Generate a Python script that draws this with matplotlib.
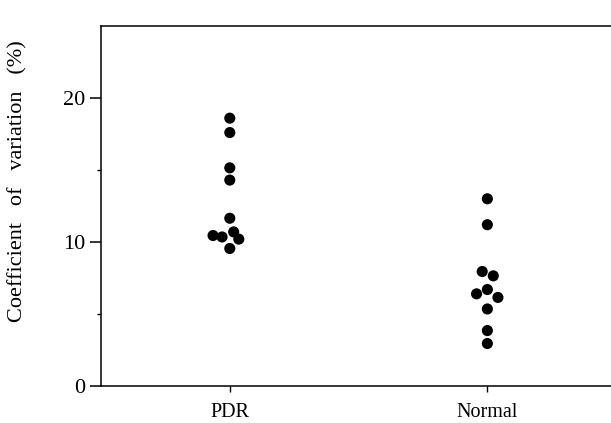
import numpy as np
import matplotlib
matplotlib.use("Agg")
import matplotlib.pyplot as plt

# Data
groups = ['PDR', 'Normal']
pdr_cv = [18.6, 17.6, 15.15, 14.3, 11.65, 10.45, 10.35, 10.7, 10.2, 9.55]
pdr_jitter = [0, 0, 0, 0, 0, -0.065, -0.03, 0.015, 0.035, 0]
normal_cv = [13.0, 11.2, 7.95, 7.65, 6.7, 6.4, 6.15, 5.35, 3.85, 2.95]
normal_jitter = [0, 0, -0.02, 0.023, 0, -0.042, 0.041, 0, 0, 0]
major_yticks = [0, 10, 20]
minor_yticks = [5, 15]

plt.rcParams['font.family'] = ['Liberation Serif', 'DejaVu Serif']

fig = plt.figure(figsize=(6.11, 4.23), dpi=100)
ax = fig.add_axes([101 / 611, 1 - 386 / 423, 1 - 101 / 611, (386 - 26) / 423])

for i, (vals, jit) in enumerate([(pdr_cv, pdr_jitter), (normal_cv, normal_jitter)]):
    x = np.full(len(vals), i) + np.array(jit)
    ax.scatter(x, vals, s=64, color='black', edgecolors='none', zorder=3)

ax.set_xlim(-0.5, 1.48)
ax.set_ylim(0, 25)
ax.set_xticks([0, 1])
ax.set_xticklabels(groups, fontsize=14.5)
ax.set_yticks(major_yticks)
ax.set_yticks(minor_yticks, minor=True)
ax.tick_params(axis='y', which='major', direction='out', length=8, width=1.1,
               labelsize=16, pad=3)
ax.tick_params(axis='y', which='minor', direction='out', length=3, width=1.0)
ax.tick_params(axis='x', which='major', direction='out', length=4, width=1.0,
               labelsize=14.5, pad=8)

for side in ['left', 'top', 'bottom']:
    ax.spines[side].set_linewidth(1.1)
ax.spines['right'].set_visible(False)

ax.set_ylabel('Coefficient   of   variation   (%)', fontsize=16)
ax.yaxis.set_label_coords(-0.145, 0.57)

fig.savefig('out.png', dpi=100)
